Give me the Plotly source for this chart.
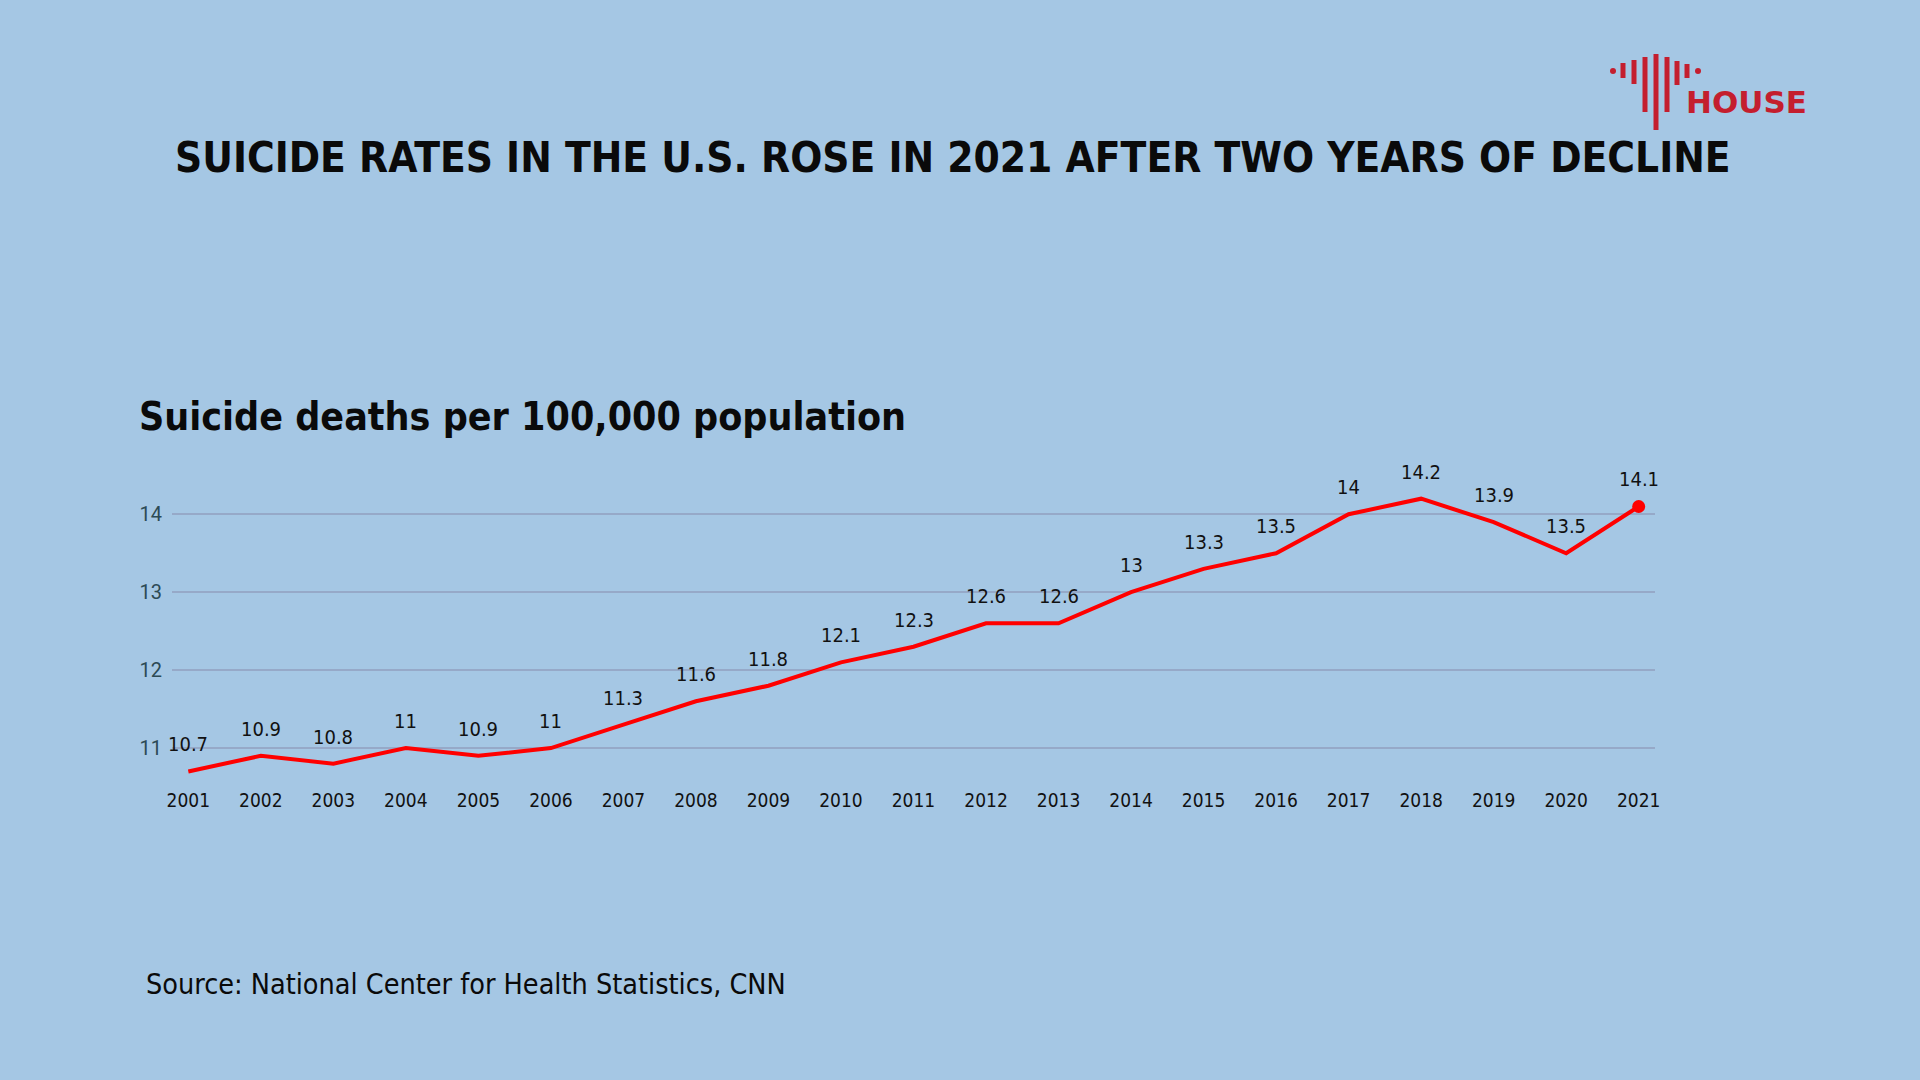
import plotly.graph_objects as go

years = list(range(2001, 2022))
rates = [10.7, 10.9, 10.8, 11.0, 10.9, 11.0, 11.3, 11.6, 11.8, 12.1, 12.3,
         12.6, 12.6, 13.0, 13.3, 13.5, 14.0, 14.2, 13.9, 13.5, 14.1]
labels = ["10.7", "10.9", "10.8", "11", "10.9", "11", "11.3", "11.6", "11.8", "12.1", "12.3",
          "12.6", "12.6", "13", "13.3", "13.5", "14", "14.2", "13.9", "13.5", "14.1"]
y_ticks = [11, 12, 13, 14]

TITLE = "SUICIDE RATES IN THE U.S. ROSE IN 2021 AFTER TWO YEARS OF DECLINE"
SUBTITLE = "Suicide deaths per 100,000 population"
SOURCE = "Source: National Center for Health Statistics, CNN"

BG = "#a5c7e4"
RED = "#ff0000"
LOGO = "#c41e2e"
NARROW = "Liberation Sans Narrow, DejaVu Sans Condensed, Roboto, sans-serif"

W, H = 1920, 1080
L, R, T, B = 172, 265, 487, 293
PW, PH = W - L - R, H - T - B


def px(x):
    return (x - L) / PW


def py(y):
    return (H - B - y) / PH


fig = go.Figure()
fig.add_trace(go.Scatter(
    x=years, y=rates, mode="lines",
    line=dict(color=RED, width=4),
    hoverinfo="skip", showlegend=False))
fig.add_trace(go.Scatter(
    x=years[-1:], y=rates[-1:], mode="markers",
    marker=dict(color=RED, size=13),
    hoverinfo="skip", showlegend=False))

for x, y, t in zip(years, rates, labels):
    fig.add_annotation(x=x, y=y, text=t, showarrow=False, yshift=27,
                       font=dict(family=NARROW, size=20, color="#111111"))

annotations_extra = [
    dict(text=f"<b>{TITLE}</b>", x=px(953), y=py(157), xanchor="center", yanchor="middle",
         font=dict(family=NARROW, size=42, color="#0a0a0a")),
    dict(text=f"<b>{SUBTITLE}</b>", x=px(137), y=py(416), xanchor="left", yanchor="middle",
         font=dict(family=NARROW, size=39, color="#0a0a0a")),
    dict(text=SOURCE, x=px(144), y=py(984), xanchor="left", yanchor="middle",
         font=dict(family=NARROW, size=28.5, color="#0a0a0a")),
    dict(text="<b>HOUSE</b>", x=px(1684), y=py(102), xanchor="left", yanchor="middle",
         font=dict(family="DejaVu Sans, sans-serif", size=31, color=LOGO)),
]
for a in annotations_extra:
    fig.add_annotation(xref="paper", yref="paper", showarrow=False, **a)

# logo bars
bars = [(1623, 63, 78), (1634, 60, 84), (1645, 57, 112), (1656, 54, 130),
        (1667, 57, 112), (1677, 61, 85), (1687, 64, 78)]
shapes = []
for bx, y0, y1 in bars:
    shapes.append(dict(type="line", xref="paper", yref="paper",
                       x0=px(bx), x1=px(bx), y0=py(y0), y1=py(y1),
                       line=dict(color=LOGO, width=5)))
for dx in (1613, 1698):
    shapes.append(dict(type="circle", xref="paper", yref="paper",
                       x0=px(dx - 3), x1=px(dx + 3), y0=py(71 - 3), y1=py(71 + 3),
                       fillcolor=LOGO, line=dict(width=0)))

fig.update_layout(
    width=W, height=H,
    paper_bgcolor=BG, plot_bgcolor=BG,
    margin=dict(l=L, r=R, t=T, b=B),
    shapes=shapes,
    xaxis=dict(range=[2000.775, 2021.225], tickmode="array", tickvals=years,
               ticktext=[str(y) for y in years], showgrid=False, zeroline=False,
               showline=False, ticks="",
               tickfont=dict(family=NARROW, size=19, color="#111111")),
    yaxis=dict(range=[10.5, 14.35], tickmode="array", tickvals=y_ticks,
               showgrid=True, gridcolor="#96a9c8", gridwidth=1.5, zeroline=False,
               showline=False, ticks="", ticklabelstandoff=9,
               tickfont=dict(family="Roboto, sans-serif", size=20, color="#2c4a55")),
)

fig.write_html("out.html", config={"displayModeBar": False},
               post_script="document.body.style.margin='0';")
